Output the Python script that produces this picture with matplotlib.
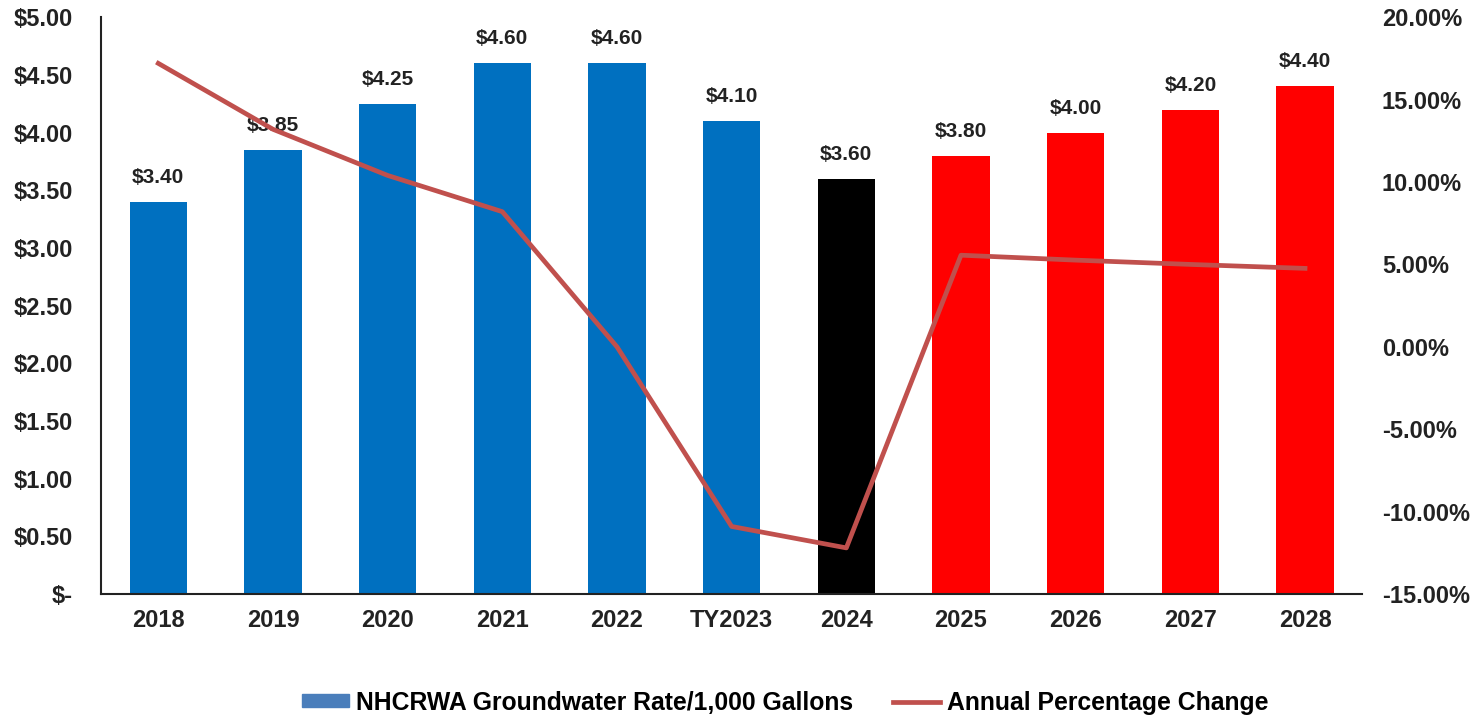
import numpy as np
import matplotlib.pyplot as plt
from matplotlib.ticker import FuncFormatter
from matplotlib.patches import Patch
from matplotlib.lines import Line2D

plt.rcParams['font.family'] = ['Liberation Sans', 'DejaVu Sans']
plt.rcParams['font.weight'] = 'bold'

years = ['2018', '2019', '2020', '2021', '2022', 'TY2023', '2024', '2025', '2026', '2027', '2028']
rate = [3.40, 3.85, 4.25, 4.60, 4.60, 4.10, 3.60, 3.80, 4.00, 4.20, 4.40]
pct_change = [17.2, 13.2, 10.4, 8.2, 0.0, -10.9, -12.2, 5.56, 5.26, 5.0, 4.76]
bar_colors = ['#0070C0'] * 6 + ['#000000'] + ['#FF0000'] * 4

fig = plt.figure(figsize=(14.76, 7.17), dpi=100)
ax = fig.add_axes([0.0684, 0.1715, 0.8546, 0.8045])
x = np.arange(len(years))
bars = ax.bar(x, rate, width=0.5, color=bar_colors, zorder=2)
ax.set_xlim(-0.5, len(years) - 0.5)
ax.set_ylim(0, 5)
ax.set_yticks(np.arange(0, 5.01, 0.5))

def money(v, pos):
    if abs(v) < 1e-9:
        return '$-'
    return '$%.2f' % v

ax.yaxis.set_major_formatter(FuncFormatter(money))
ax.set_xticks(x)
ax.set_xticklabels(years)
ax.tick_params(axis='both', length=0, labelsize=17, colors='#222222')
ax.tick_params(axis='y', pad=20)
ax.tick_params(axis='x', pad=11)
for s in ['top', 'right']:
    ax.spines[s].set_visible(False)
ax.spines['left'].set_color('#222222')
ax.spines['bottom'].set_color('#222222')
ax.spines['left'].set_linewidth(1.5)
ax.spines['bottom'].set_linewidth(1.5)

for i, v in enumerate(rate):
    ax.text(i, v + 0.13, '$%.2f' % v, ha='center', va='bottom', fontsize=15,
            fontweight='bold', color='#222222', zorder=3)

ax2 = ax.twinx()
ax2.plot(x, pct_change, color='#C0504D', linewidth=3.4, zorder=5)
ax2.set_ylim(-15, 20)
ax2.set_yticks(np.arange(-15, 20.1, 5))
ax2.yaxis.set_major_formatter(FuncFormatter(lambda v, p: '%.2f%%' % v))
ax2.tick_params(axis='y', length=0, labelsize=17, colors='#222222', pad=14)
for s in ax2.spines.values():
    s.set_visible(False)

handles = [Patch(color='#4A7EBB'), Line2D([0], [0], color='#C0504D', linewidth=3.4)]
fig.legend(handles, ['NHCRWA Groundwater Rate/1,000 Gallons', 'Annual Percentage Change'],
           loc='center', bbox_to_anchor=(0.532, 0.02), ncol=2, frameon=False,
           fontsize=17.8, handlelength=1.9, handleheight=0.45, handletextpad=0.3,
           columnspacing=1.6)

fig.savefig('out.png', dpi=100)
